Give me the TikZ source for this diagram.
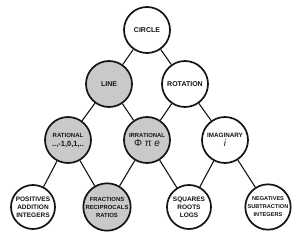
\documentclass[tikz,border=0pt]{standalone}
\usepackage{fontspec}
\setmainfont{Liberation Sans}
\definecolor{ink}{HTML}{141414}
\definecolor{shade}{HTML}{C9C9C9}

\begin{document}
\begin{tikzpicture}[x=1pt,y=-1pt,text=ink,
  idea/.style={circle,draw=ink,line width=1.7pt,fill=white,minimum size=46pt,inner sep=0pt,
    align=center,font=\bfseries\fontsize{7}{8}\selectfont},
  leaf/.style={idea,minimum size=44pt},
  grey/.style={fill=shade},
  sz/.style={font=\bfseries\fontsize{#1}{8}\selectfont},
  link/.style={ink,line width=1.1pt}]
  \useasboundingbox (0,0) rectangle (300,238);
  % top
  \node[idea] (circ) at (147,30) {CIRCLE};
  \node[idea,grey] (line) at (109,84) {LINE};
  \node[idea] (rot) at (185,84) {ROTATION};
  % number kinds
  \node[idea,grey,sz=6] (rat) at (68,140) {RATIONAL\\[1pt]\fontsize{7.5}{8}\selectfont ..,-1,0,1,..};
  \node[idea,grey,sz=5.9] (irr) at (147,140) {IRRATIONAL\\[1pt]\mdseries\fontsize{10}{10}\selectfont Φ π \textit{e}};
  \node[idea,sz=6.3] (imag) at (225,140) {IMAGINARY\\[1pt]\mdseries\fontsize{10}{10}\selectfont\textit{i}};
  % operations
  \node[leaf,sz=6.5] (pos) at (33,207) {POSITIVES\\ADDITION\\INTEGERS};
  \node[leaf,grey,sz=5.9] (frac) at (107,207) {FRACTIONS\\RECIPROCALS\\RATIOS};
  \node[leaf,sz=6.5] (sq) at (189,207) {SQUARES\\ROOTS\\LOGS};
  \node[leaf,sz=5.6] (neg) at (268,207) {NEGATIVES\\SUBTRACTION\\INTEGERS};
  \foreach \a/\b in {circ/line,circ/rot,line/rat,line/irr,rot/irr,rot/imag,
      rat/pos,rat/frac,irr/frac,irr/sq,imag/sq,imag/neg}
    \draw[link] (\a) -- (\b);
\end{tikzpicture}
\end{document}
